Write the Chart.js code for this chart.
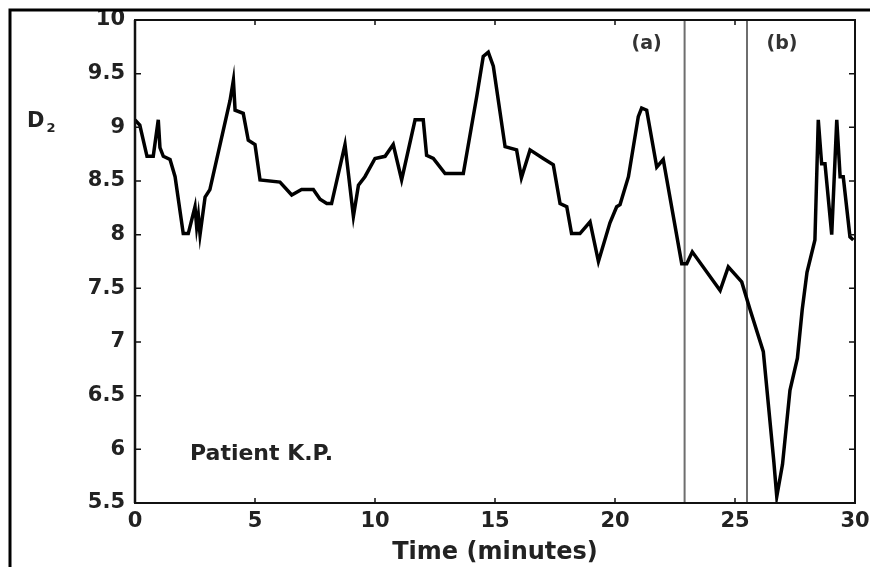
<!DOCTYPE html>
<html>
<head>
<meta charset="utf-8">
<script src="https://cdn.jsdelivr.net/npm/chart.js@4/dist/chart.umd.min.js"></script>
<style>
  html, body { margin: 0; padding: 0; background: #fff; }
  #wrap { width: 870px; height: 567px; position: relative; }
</style>
</head>
<body>
<div id="wrap"><canvas id="c" width="870" height="567"></canvas></div>
<script>
// ---- data ----
const timeMinutes = [
  0.0, 0.2, 0.5, 0.76, 0.97, 1.04, 1.18, 1.46, 1.67, 2.01, 2.22, 2.5, 2.57, 2.64, 2.71, 2.92, 3.12,
  3.96, 4.1, 4.17, 4.51, 4.72, 5.0, 5.21, 6.04, 6.53, 6.94, 7.43, 7.71, 7.99, 8.19, 8.75, 9.1, 9.31,
  9.58, 10.0, 10.42, 10.76, 11.11, 11.67, 12.01, 12.15, 12.43, 12.92, 13.68, 14.24, 14.51, 14.72,
  14.93, 15.42, 15.9, 16.1, 16.46, 17.01, 17.43, 17.71, 17.99, 18.19, 18.54, 18.96, 19.31, 19.79,
  20.07, 20.21, 20.56, 20.97, 21.11, 21.32, 21.74, 22.01, 22.78, 22.99, 23.22, 24.38, 24.72, 25.28,
  25.63, 26.18, 26.62, 26.74, 26.98, 27.29, 27.6, 27.8, 28.0, 28.33, 28.47, 28.61, 28.75, 29.03,
  29.24, 29.38, 29.51, 29.79, 29.93
];
const d2Values = [
  9.07, 9.02, 8.73, 8.73, 9.07, 8.81, 8.73, 8.70, 8.54, 8.01, 8.01, 8.26, 8.07, 8.18, 8.00, 8.35, 8.42,
  9.25, 9.44, 9.16, 9.13, 8.88, 8.84, 8.51, 8.49, 8.37, 8.42, 8.42, 8.33, 8.29, 8.29, 8.84, 8.17, 8.46,
  8.54, 8.71, 8.73, 8.84, 8.51, 9.07, 9.07, 8.74, 8.71, 8.57, 8.57, 9.29, 9.66, 9.70,
  9.57, 8.82, 8.79, 8.53, 8.79, 8.71, 8.65, 8.29, 8.26, 8.01, 8.01, 8.12, 7.75, 8.11,
  8.26, 8.28, 8.54, 9.10, 9.18, 9.16, 8.63, 8.70, 7.73, 7.73, 7.84, 7.48, 7.70, 7.56,
  7.30, 6.91, 5.88, 5.56, 5.86, 6.55, 6.85, 7.30, 7.65, 7.95, 9.07, 8.66, 8.66, 8.00,
  9.07, 8.54, 8.54, 7.98, 7.95
];
const markerTimes = [22.9, 25.5];
const markerLabels = ['(a)', '(b)'];
const xTickValues = [0, 5, 10, 15, 20, 25, 30];
const xTickLabels = ['0', '5', '10', '15', '20', '25', '30'];
const yTickValues = [5.5, 6, 6.5, 7, 7.5, 8, 8.5, 9, 9.5, 10];
const yTickLabels = ['5.5', '6', '6.5', '7', '7.5', '8', '8.5', '9', '9.5', '10'];
const xTitle = 'Time (minutes)';
const yLabelMain = 'D';
const yLabelSub = '2';
const annotationText = 'Patient K.P.';

const FONT = "'DejaVu Sans', 'Liberation Sans', sans-serif";
const TEXT = '#222';

const mainSeries = timeMinutes.map((t, i) => ({ x: t, y: d2Values[i] }));
const markerSets = markerTimes.map(t => ({
  data: [{ x: t, y: yTickValues[0] }, { x: t, y: yTickValues[yTickValues.length - 1] }],
  borderColor: '#6e6e6e', borderWidth: 2, showLine: true, pointRadius: 0, order: 2
}));

const decorPlugin = {
  id: 'decor',
  afterDraw(chart) {
    const { ctx, chartArea: a, scales: { x, y } } = chart;
    ctx.save();
    // plot box
    ctx.strokeStyle = '#111';
    ctx.lineWidth = 2;
    ctx.strokeRect(a.left, a.top, a.right - a.left, a.bottom - a.top);
    ctx.lineWidth = 2.5;
    ctx.beginPath(); ctx.moveTo(a.left, a.top); ctx.lineTo(a.left, a.bottom); ctx.stroke();
    // inward ticks
    ctx.lineWidth = 1.5;
    ctx.beginPath();
    xTickValues.forEach(v => {
      const px = x.getPixelForValue(v);
      ctx.moveTo(px, a.bottom); ctx.lineTo(px, a.bottom - 5);
      ctx.moveTo(px, a.top); ctx.lineTo(px, a.top + 5);
    });
    yTickValues.forEach(v => {
      const py = y.getPixelForValue(v);
      ctx.moveTo(a.left, py); ctx.lineTo(a.left + 6, py);
      ctx.moveTo(a.right, py); ctx.lineTo(a.right - 6, py);
    });
    ctx.stroke();
    // outer frame
    ctx.strokeStyle = '#000';
    ctx.lineWidth = 3;
    ctx.beginPath(); ctx.moveTo(10, 567); ctx.lineTo(10, 10); ctx.lineTo(870, 10); ctx.stroke();
    // texts
    ctx.fillStyle = TEXT;
    ctx.textBaseline = 'middle';
    ctx.font = "bold 21px " + FONT;
    ctx.textAlign = 'left';
    const yl = y.getPixelForValue(9) - 6;
    ctx.fillText(yLabelMain, 27, yl);
    const dw = ctx.measureText(yLabelMain).width;
    ctx.font = "bold 13px " + FONT;
    ctx.fillText(yLabelSub, 27 + dw + 2, yl + 7);
    ctx.font = "bold 19px " + FONT;
    ctx.fillStyle = '#333';
    ctx.textAlign = 'center';
    ctx.fillText(markerLabels[0], x.getPixelForValue(markerTimes[0]) - 38, 44);
    ctx.fillText(markerLabels[1], x.getPixelForValue(markerTimes[1]) + 35, 44);
    ctx.fillStyle = TEXT;
    ctx.textAlign = 'left';
    ctx.font = "bold 22px " + FONT;
    ctx.fillText(annotationText, 190, 454);
    ctx.restore();
  }
};

new Chart(document.getElementById('c'), {
  type: 'scatter',
  data: {
    datasets: [
      { data: mainSeries, borderColor: '#000', borderWidth: 3.5, showLine: true, pointRadius: 0, tension: 0, order: 1 },
      ...markerSets
    ]
  },
  options: {
    responsive: false,
    animation: false,
    devicePixelRatio: 1,
    layout: { padding: { top: 20, right: 15, left: 0, bottom: 0 } },
    plugins: { legend: { display: false }, tooltip: { enabled: false } },
    scales: {
      x: {
        type: 'linear', min: 0, max: 30,
        afterFit: s => { s.height = 64; s.paddingLeft = 0; s.paddingRight = 0; },
        afterBuildTicks: s => { s.ticks = xTickValues.map(v => ({ value: v })); },
        grid: { display: false, drawTicks: false },
        border: { display: false },
        ticks: {
          color: TEXT, font: { family: FONT, size: 21, weight: 'bold' }, padding: 6, maxRotation: 0,
          callback: (v) => xTickLabels[xTickValues.indexOf(v)]
        },
        title: { display: true, text: xTitle, color: TEXT, font: { family: FONT, size: 24, weight: 'bold' }, padding: { top: 0, bottom: 0 } }
      },
      y: {
        type: 'linear', min: 5.5, max: 10,
        afterFit: s => { s.width = 135; s.paddingTop = 0; s.paddingBottom = 0; },
        afterBuildTicks: s => { s.ticks = yTickValues.map(v => ({ value: v })); },
        grid: { display: false, drawTicks: false },
        border: { display: false },
        ticks: {
          color: TEXT, font: { family: FONT, size: 21, weight: 'bold' }, padding: 10,
          callback: (v) => yTickLabels[yTickValues.indexOf(v)]
        }
      }
    }
  },
  plugins: [decorPlugin]
});
</script>
</body>
</html>
